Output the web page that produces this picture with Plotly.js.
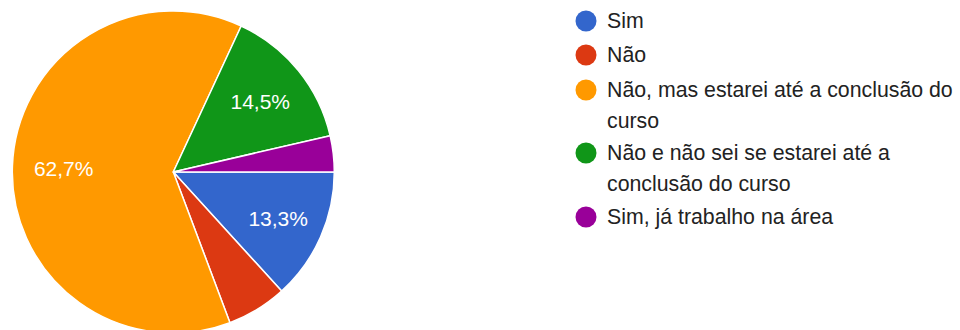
<!DOCTYPE html>
<html>
<head>
<meta charset="utf-8">
<script src="https://cdn.plot.ly/plotly-3.0.1.min.js"></script>
<style>
html, body { margin: 0; padding: 0; overflow: hidden; background: #fff; width: 960px; height: 330px; }
#chart { width: 960px; height: 333px; }
</style>
</head>
<body>
<div id="chart"></div>
<script>
// Data
const labels = [
  "Sim",
  "Não",
  "Não, mas estarei até a conclusão do<br>curso",
  "Não e não sei se estarei até a<br>conclusão do curso",
  "Sim, já trabalho na área"
];
const values = [11, 5, 52, 12, 3];
const colors = ["#3366cc", "#dc3912", "#ff9900", "#109618", "#990099"];

const W = 960, H = 333, TOP = 11, PLOT_H = 322;
const total = values.reduce((a, b) => a + b, 0);
// small slices get no label; the dominant slice label is padded so it sits further out
const pad = "\u00A0".repeat(10);
const templates = values.map(v => {
  const f = v / total;
  if (f < 0.1) return "";
  return f > 0.5 ? "%{percent:.1%}" + pad : "%{percent:.1%}";
});

const pie = {
  type: "pie",
  labels: labels,
  values: values,
  sort: false,
  direction: "clockwise",
  rotation: 90,
  marker: { colors: colors, line: { color: "#ffffff", width: 1.5 } },
  texttemplate: templates,
  textposition: "inside",
  insidetextorientation: "horizontal",
  textfont: { family: "Liberation Sans, Arial, sans-serif", size: 21, color: "#ffffff" },
  hoverinfo: "none",
  showlegend: false,
  domain: { x: [12.3 / W, 334.3 / W], y: [0, 1] }
};

// Custom legend: circle markers + text, positions in pixels
const px = x => x / W;
const py = y => 1 - (y - TOP) / PLOT_H;
const legendX = 586, textX = 605, rad = 10.5;
const itemY = [21, 55, 90, 153, 217];
const lineGap = 30.5;

const shapes = [];
const annotations = [];
labels.forEach((lab, i) => {
  shapes.push({
    type: "circle", xref: "paper", yref: "paper",
    x0: px(legendX - rad), x1: px(legendX + rad),
    y0: py(itemY[i] + rad), y1: py(itemY[i] - rad),
    fillcolor: colors[i], line: { width: 0 }
  });
  lab.split("<br>").forEach((line, j) => {
    annotations.push({
      xref: "paper", yref: "paper",
      x: px(textX), y: py(itemY[i] + j * lineGap),
      xanchor: "left", yanchor: "middle",
      text: line, showarrow: false,
      font: { family: "Liberation Sans, Arial, sans-serif", size: 21.3, color: "#222222" }
    });
  });
});

const layout = {
  width: W, height: H,
  margin: { l: 0, r: 0, t: TOP, b: 0, pad: 0 },
  paper_bgcolor: "#ffffff",
  separators: ",.",
  showlegend: false,
  hovermode: false,
  shapes: shapes,
  annotations: annotations
};

Plotly.newPlot("chart", [pie], layout, { displayModeBar: false, staticPlot: true });
</script>
</body>
</html>
